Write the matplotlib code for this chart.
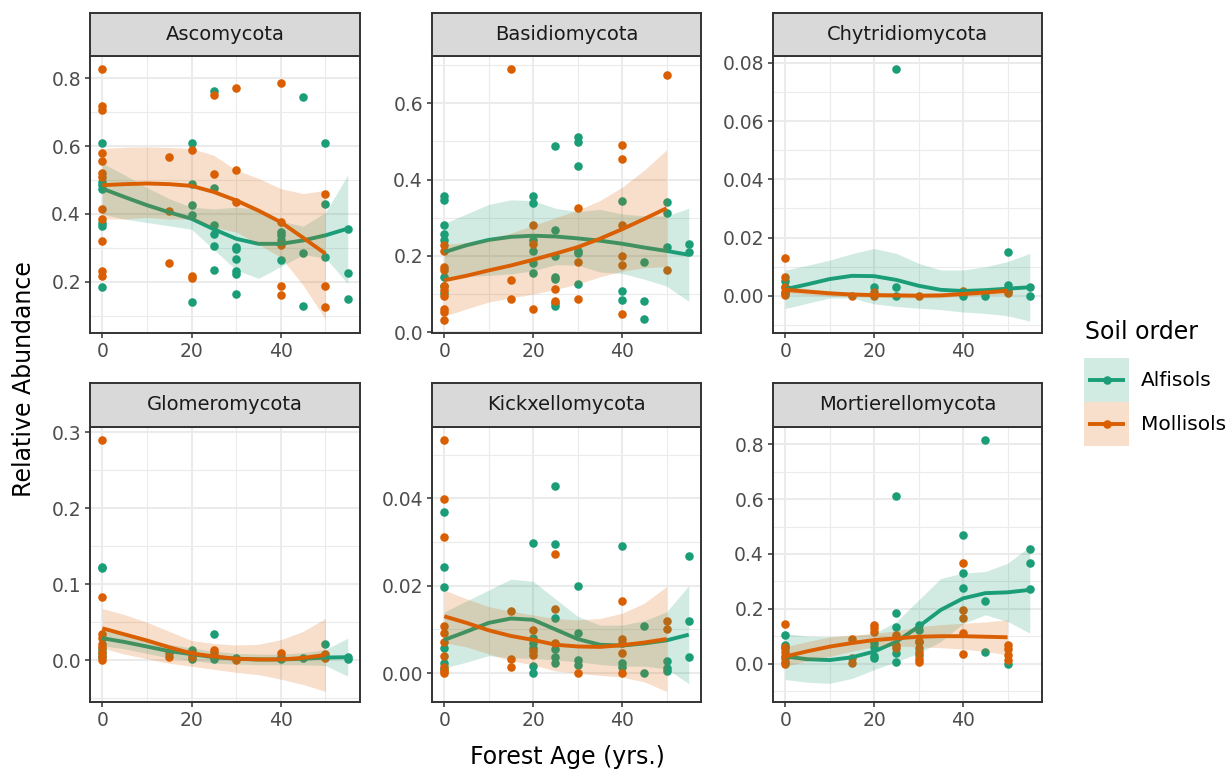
import numpy as np
import matplotlib
matplotlib.use('Agg')
import matplotlib.pyplot as plt
from matplotlib.patches import Rectangle

W, H = 1232, 773

GREEN = '#1B9E77'
ORANGE = '#D95F02'

FIT_X_ALF = [0, 5, 10, 15, 20, 25, 30, 35, 40, 45, 50, 55]
FIT_X_MOL = [0, 5, 10, 15, 20, 25, 30, 35, 40, 45, 50]

# ---------------- Ascomycota ----------------
asco_alf = [(0, 0.61), (0, 0.495), (0, 0.485), (0, 0.475), (0, 0.373), (0, 0.366), (0, 0.184),
            (20, 0.608), (20, 0.488), (20, 0.428), (20, 0.397), (20, 0.14),
            (25, 0.764), (25, 0.478), (25, 0.369), (25, 0.342), (25, 0.307), (25, 0.236),
            (30, 0.304), (30, 0.298), (30, 0.268), (30, 0.231), (30, 0.224), (30, 0.163),
            (40, 0.347), (40, 0.337), (40, 0.324), (40, 0.263),
            (45, 0.746), (45, 0.286), (45, 0.13),
            (50, 0.61), (50, 0.43), (50, 0.273),
            (55, 0.357), (55, 0.227), (55, 0.15)]
asco_mol = [(0, 0.827), (0, 0.72), (0, 0.708), (0, 0.58), (0, 0.557), (0, 0.52), (0, 0.51),
            (0, 0.416), (0, 0.386), (0, 0.32), (0, 0.233), (0, 0.216),
            (15, 0.567), (15, 0.409), (15, 0.256),
            (20, 0.588), (20, 0.216), (20, 0.21),
            (25, 0.751), (25, 0.519),
            (30, 0.772), (30, 0.531), (30, 0.436),
            (40, 0.787), (40, 0.376), (40, 0.31), (40, 0.187), (40, 0.16),
            (50, 0.458), (50, 0.187), (50, 0.125)]
asco_alf_fit = [0.475, 0.45, 0.426, 0.405, 0.386, 0.355, 0.327, 0.312, 0.312, 0.322, 0.337, 0.357]
asco_alf_lo = [0.40, 0.385, 0.375, 0.365, 0.355, 0.295, 0.235, 0.21, 0.245, 0.28, 0.27, 0.195]
asco_alf_hi = [0.55, 0.515, 0.478, 0.445, 0.42, 0.415, 0.42, 0.414, 0.379, 0.364, 0.404, 0.515]
asco_mol_fit = [0.485, 0.488, 0.49, 0.488, 0.483, 0.465, 0.44, 0.41, 0.376, 0.33, 0.283]
asco_mol_lo = [0.386, 0.385, 0.39, 0.385, 0.386, 0.36, 0.347, 0.31, 0.273, 0.19, 0.09]
asco_mol_hi = [0.593, 0.597, 0.598, 0.596, 0.593, 0.573, 0.53, 0.505, 0.475, 0.46, 0.47]

# ---------------- Basidiomycota ----------------
basi_alf = [(0, 0.357), (0, 0.347), (0, 0.281), (0, 0.258), (0, 0.242), (0, 0.146), (0, 0.122), (0, 0.102),
            (20, 0.358), (20, 0.338), (20, 0.242), (20, 0.212), (20, 0.181), (20, 0.156),
            (25, 0.487), (25, 0.268), (25, 0.2), (25, 0.144), (25, 0.139), (25, 0.076), (25, 0.069),
            (30, 0.513), (30, 0.498), (30, 0.437), (30, 0.214), (30, 0.207), (30, 0.127),
            (40, 0.345), (40, 0.109), (40, 0.085),
            (45, 0.185), (45, 0.082), (45, 0.035),
            (50, 0.342), (50, 0.312), (50, 0.223),
            (55, 0.232), (55, 0.209)]
basi_mol = [(0, 0.229), (0, 0.214), (0, 0.172), (0, 0.162), (0, 0.12), (0, 0.111), (0, 0.094),
            (0, 0.06), (0, 0.052), (0, 0.033),
            (15, 0.689), (15, 0.136), (15, 0.088),
            (20, 0.281), (20, 0.232), (20, 0.062),
            (25, 0.113), (25, 0.082),
            (30, 0.325), (30, 0.185), (30, 0.088),
            (40, 0.49), (40, 0.454), (40, 0.281), (40, 0.2), (40, 0.177), (40, 0.048),
            (50, 0.674), (50, 0.162)]
basi_alf_fit = [0.21, 0.228, 0.242, 0.25, 0.253, 0.251, 0.246, 0.24, 0.232, 0.222, 0.213, 0.203]
basi_alf_lo = [0.135, 0.146, 0.149, 0.153, 0.161, 0.177, 0.176, 0.158, 0.154, 0.139, 0.121, 0.081]
basi_alf_hi = [0.285, 0.31, 0.335, 0.347, 0.345, 0.325, 0.316, 0.322, 0.31, 0.305, 0.305, 0.325]
basi_mol_fit = [0.136, 0.148, 0.162, 0.175, 0.19, 0.206, 0.223, 0.245, 0.27, 0.297, 0.325]
basi_mol_lo = [0.042, 0.061, 0.079, 0.09, 0.1, 0.112, 0.126, 0.145, 0.16, 0.169, 0.172]
basi_mol_hi = [0.23, 0.235, 0.245, 0.26, 0.28, 0.3, 0.32, 0.345, 0.38, 0.425, 0.478]

# ---------------- Chytridiomycota ----------------
chyt_alf = [(0, 0.005), (0, 0.003), (0, 0.001),
            (20, 0.0032), (20, 0.0005),
            (25, 0.0777), (25, 0.003), (25, 0.0),
            (40, 0.0), (45, 0.0),
            (50, 0.0151), (50, 0.0038),
            (55, 0.003), (55, 0.0)]
chyt_mol = [(0, 0.0131), (0, 0.0064), (0, 0.0032), (0, 0.0015), (0, 0.0003),
            (15, 0.0), (20, 0.0015), (20, 0.0), (30, 0.0),
            (40, 0.0018), (50, 0.0018), (50, 0.001)]
chyt_alf_fit = [0.0023, 0.004, 0.0058, 0.0069, 0.0068, 0.0055, 0.0035, 0.0021, 0.0017, 0.002, 0.0025, 0.003]
chyt_alf_lo = [-0.0043, -0.0025, -0.0007, -0.0007, -0.0027, -0.0036, -0.0042, -0.0047, -0.0055, -0.006, -0.0068, -0.0086]
chyt_alf_hi = [0.0089, 0.0105, 0.0123, 0.0145, 0.0163, 0.0146, 0.0112, 0.0089, 0.0089, 0.01, 0.0118, 0.0146]
chyt_mol_fit = [0.0021, 0.0015, 0.0009, 0.0005, 0.0003, 0.0002, 0.0001, 0.0002, 0.0007, 0.0012, 0.0018]
chyt_mol_lo = [0.0009, 0.0005, 0.0, -0.0003, -0.0005, -0.0006, -0.0007, -0.0006, -0.0001, 0.0003, 0.0006]
chyt_mol_hi = [0.0033, 0.0025, 0.0018, 0.0013, 0.0011, 0.001, 0.0009, 0.001, 0.0015, 0.0021, 0.003]

# ---------------- Glomeromycota ----------------
glom_alf = [(0, 0.123), (0, 0.121), (0, 0.015), (0, 0.009), (0, 0.004),
            (20, 0.013), (20, 0.002),
            (25, 0.035), (25, 0.004), (25, 0.001),
            (30, 0.0035), (40, 0.004), (40, 0.001), (45, 0.0035),
            (50, 0.021), (55, 0.004), (55, 0.001)]
glom_mol = [(0, 0.29), (0, 0.083), (0, 0.034), (0, 0.029), (0, 0.022), (0, 0.018), (0, 0.011),
            (0, 0.005), (0, 0.0),
            (15, 0.009), (15, 0.004), (20, 0.008), (20, 0.004),
            (25, 0.014), (25, 0.009), (30, 0.0), (40, 0.009),
            (50, 0.008), (50, 0.0035)]
glom_alf_fit = [0.029, 0.024, 0.018, 0.012, 0.008, 0.004, 0.002, 0.001, 0.001, 0.002, 0.0035, 0.004]
glom_alf_lo = [0.019, 0.015, 0.009, 0.003, 0.0, -0.004, -0.005, -0.006, -0.006, -0.006, -0.007, -0.021]
glom_alf_hi = [0.039, 0.033, 0.027, 0.021, 0.016, 0.012, 0.009, 0.008, 0.008, 0.01, 0.014, 0.029]
glom_mol_fit = [0.042, 0.034, 0.026, 0.017, 0.009, 0.005, 0.002, 0.001, 0.001, 0.003, 0.007]
glom_mol_lo = [0.016, 0.008, 0.002, -0.004, -0.008, -0.012, -0.016, -0.019, -0.025, -0.032, -0.041]
glom_mol_hi = [0.068, 0.06, 0.05, 0.038, 0.026, 0.022, 0.02, 0.021, 0.027, 0.038, 0.055]

# ---------------- Kickxellomycota ----------------
kick_alf = [(0, 0.0368), (0, 0.0242), (0, 0.0197), (0, 0.0057), (0, 0.0024), (0, 0.0009),
            (20, 0.0297), (20, 0.008), (20, 0.0069), (20, 0.0057), (20, 0.0017), (20, 0.0),
            (25, 0.0428), (25, 0.0295), (25, 0.0126), (25, 0.0055), (25, 0.0037), (25, 0.0023),
            (30, 0.02), (30, 0.0091), (30, 0.003), (30, 0.0019),
            (40, 0.029), (40, 0.0023), (40, 0.0015),
            (45, 0.0107), (45, 0.0),
            (50, 0.0027), (50, 0.0011), (50, 0.0004),
            (55, 0.0268), (55, 0.012), (55, 0.0037)]
kick_mol = [(0, 0.0533), (0, 0.0398), (0, 0.0311), (0, 0.0107), (0, 0.0091), (0, 0.0072),
            (0, 0.004), (0, 0.0014), (0, 0.0004), (0, 0.0),
            (15, 0.0141), (15, 0.0032), (15, 0.0015),
            (20, 0.0098), (20, 0.005), (20, 0.0042),
            (25, 0.0272), (25, 0.0147), (25, 0.0069),
            (30, 0.0),
            (40, 0.0166), (40, 0.0078), (40, 0.0069), (40, 0.0046), (40, 0.0),
            (50, 0.012), (50, 0.01)]
kick_alf_fit = [0.0076, 0.0095, 0.0115, 0.0125, 0.0122, 0.01, 0.0078, 0.0065, 0.0063, 0.0068, 0.0075, 0.0088]
kick_alf_lo = [0.0012, 0.0025, 0.004, 0.0035, 0.0034, 0.003, 0.0026, 0.002, 0.0016, 0.0016, 0.001, -0.0024]
kick_alf_hi = [0.014, 0.0165, 0.019, 0.0215, 0.021, 0.017, 0.013, 0.011, 0.011, 0.012, 0.014, 0.02]
kick_mol_fit = [0.013, 0.0115, 0.0098, 0.0085, 0.0076, 0.0065, 0.0061, 0.006, 0.0064, 0.007, 0.0078]
kick_mol_lo = [0.007, 0.006, 0.0044, 0.0028, 0.0019, 0.0005, 0.0, -0.0005, -0.0009, -0.002, -0.0042]
kick_mol_hi = [0.019, 0.017, 0.0152, 0.0142, 0.0133, 0.0125, 0.0122, 0.0125, 0.0137, 0.016, 0.0198]

# ---------------- Mortierellomycota ----------------
mort_alf = [(0, 0.105), (0, 0.068), (0, 0.056), (0, 0.019),
            (20, 0.074), (20, 0.062), (20, 0.028), (20, 0.019),
            (25, 0.612), (25, 0.184), (25, 0.135), (25, 0.04), (25, 0.007),
            (30, 0.141), (30, 0.123), (30, 0.08), (30, 0.032),
            (40, 0.469), (40, 0.332), (40, 0.277),
            (45, 0.816), (45, 0.229), (45, 0.044),
            (50, 0.0),
            (55, 0.418), (55, 0.366), (55, 0.272)]
mort_mol = [(0, 0.143), (0, 0.062), (0, 0.044), (0, 0.026), (0, 0.007), (0, 0.0),
            (15, 0.09), (15, 0.019), (15, 0.001),
            (20, 0.141), (20, 0.129), (20, 0.117),
            (25, 0.105), (25, 0.068), (25, 0.056),
            (30, 0.084), (30, 0.056), (30, 0.044), (30, 0.016), (30, 0.007),
            (40, 0.368), (40, 0.196), (40, 0.165), (40, 0.111), (40, 0.035),
            (50, 0.068), (50, 0.052), (50, 0.032), (50, 0.013)]
mort_alf_fit = [0.026, 0.016, 0.013, 0.023, 0.044, 0.08, 0.135, 0.196, 0.238, 0.257, 0.26, 0.269]
mort_alf_lo = [-0.058, -0.068, -0.072, -0.054, -0.022, 0.007, 0.038, 0.081, 0.146, 0.178, 0.154, 0.111]
mort_alf_hi = [0.11, 0.1, 0.098, 0.1, 0.11, 0.153, 0.232, 0.311, 0.33, 0.336, 0.366, 0.427]
mort_mol_fit = [0.026, 0.045, 0.062, 0.075, 0.086, 0.092, 0.098, 0.1, 0.1, 0.098, 0.096]
mort_mol_lo = [-0.01, 0.01, 0.026, 0.045, 0.062, 0.064, 0.061, 0.058, 0.053, 0.044, 0.032]
mort_mol_hi = [0.062, 0.08, 0.098, 0.105, 0.11, 0.12, 0.135, 0.142, 0.147, 0.152, 0.16]

PHYLA = ['Ascomycota', 'Basidiomycota', 'Chytridiomycota',
         'Glomeromycota', 'Kickxellomycota', 'Mortierellomycota']
Y_TICKS = [[0.2, 0.4, 0.6, 0.8], [0.0, 0.2, 0.4, 0.6], [0.0, 0.02, 0.04, 0.06, 0.08],
           [0.0, 0.1, 0.2, 0.3], [0.0, 0.02, 0.04], [0.0, 0.2, 0.4, 0.6, 0.8]]
Y_LABELS = [['0.2', '0.4', '0.6', '0.8'], ['0.0', '0.2', '0.4', '0.6'],
            ['0.00', '0.02', '0.04', '0.06', '0.08'], ['0.0', '0.1', '0.2', '0.3'],
            ['0.00', '0.02', '0.04'], ['0.0', '0.2', '0.4', '0.6', '0.8']]
Y_LIMS = [(0.049, 0.866), (-0.002, 0.724), (-0.0127, 0.0823),
          (-0.055, 0.307), (-0.0066, 0.0563), (-0.14, 0.863)]

panels = [
    (asco_alf, asco_mol, (asco_alf_fit, asco_alf_lo, asco_alf_hi), (asco_mol_fit, asco_mol_lo, asco_mol_hi)),
    (basi_alf, basi_mol, (basi_alf_fit, basi_alf_lo, basi_alf_hi), (basi_mol_fit, basi_mol_lo, basi_mol_hi)),
    (chyt_alf, chyt_mol, (chyt_alf_fit, chyt_alf_lo, chyt_alf_hi), (chyt_mol_fit, chyt_mol_lo, chyt_mol_hi)),
    (glom_alf, glom_mol, (glom_alf_fit, glom_alf_lo, glom_alf_hi), (glom_mol_fit, glom_mol_lo, glom_mol_hi)),
    (kick_alf, kick_mol, (kick_alf_fit, kick_alf_lo, kick_alf_hi), (kick_mol_fit, kick_mol_lo, kick_mol_hi)),
    (mort_alf, mort_mol, (mort_alf_fit, mort_alf_lo, mort_alf_hi), (mort_mol_fit, mort_mol_lo, mort_mol_hi)),
]

COLS = [(90, 360), (432, 701), (773, 1042)]
ROWS = [(13, 56, 333), (383, 427, 702)]   # strip top, panel top, panel bottom
PT_SIZE = 38
LINE_W = 2.8


def px_rect(left, top, right, bottom):
    return [left / W, 1 - bottom / H, (right - left) / W, (bottom - top) / H]


plt.rcParams['font.family'] = 'DejaVu Sans'
fig = plt.figure(figsize=(W / 100, H / 100), dpi=100)

for i, name in enumerate(PHYLA):
    r, c = divmod(i, 3)
    left, right = COLS[c]
    s_top, p_top, p_bot = ROWS[r]
    ax = fig.add_axes(px_rect(left, p_top, right, p_bot))
    alf, mol, fa, fm = panels[i]

    ax.scatter([p[0] for p in alf], [p[1] for p in alf], s=PT_SIZE, color=GREEN, lw=0, zorder=3)
    ax.scatter([p[0] for p in mol], [p[1] for p in mol], s=PT_SIZE, color=ORANGE, lw=0, zorder=3)

    for fx, (fit, lo, hi), col in [(FIT_X_ALF, fa, GREEN), (FIT_X_MOL, fm, ORANGE)]:
        ax.fill_between(fx, lo, hi, color=col, alpha=0.2, lw=0, zorder=4)
        ax.plot(fx, fit, color=col, lw=LINE_W, zorder=4, solid_capstyle='butt')

    ax.set_xlim(-2.75, 57.75)
    ax.set_xticks([0, 20, 40])
    ax.set_xticks([10, 30, 50], minor=True)
    yt = Y_TICKS[i]
    step = yt[1] - yt[0]
    ax.set_yticks(yt)
    ax.set_yticklabels(Y_LABELS[i])
    ax.set_yticks([v + step / 2 for v in [yt[0] - step] + yt], minor=True)
    ax.set_ylim(*Y_LIMS[i])
    ax.grid(which='major', color='#EBEBEB', lw=1.5, zorder=0)
    ax.grid(which='minor', color='#EBEBEB', lw=0.8, zorder=0)
    ax.set_axisbelow(True)
    ax.tick_params(which='major', length=3.5, width=1.1, color='#333333',
                   labelsize=13.5, labelcolor='#4D4D4D', pad=3)
    ax.tick_params(which='minor', length=0)
    for sp in ax.spines.values():
        sp.set_color('#333333')
        sp.set_linewidth(1.4)

    sax = fig.add_axes(px_rect(left, s_top, right, p_top))
    sax.set_facecolor('#D9D9D9')
    sax.set_xticks([])
    sax.set_yticks([])
    for sp in sax.spines.values():
        sp.set_color('#333333')
        sp.set_linewidth(1.4)
    sax.text(0.5, 0.5, name, ha='center', va='center', fontsize=14, color='#1A1A1A',
             transform=sax.transAxes)

fig.text(567 / W, 1 - 757 / H, 'Forest Age (yrs.)', ha='center', va='center', fontsize=17)
fig.text(24 / W, 1 - 379 / H, 'Relative Abundance', ha='center', va='center',
         rotation=90, fontsize=17)

# legend drawn in pixel space
lax = fig.add_axes([0, 0, 1, 1], zorder=10)
lax.set_xlim(0, W)
lax.set_ylim(H, 0)
lax.axis('off')
lax.text(1085, 332, 'Soil order', ha='left', va='center', fontsize=17)
for k, (lab, col) in enumerate([('Alfisols', GREEN), ('Mollisols', ORANGE)]):
    y0 = 358 + k * 44
    lax.add_patch(Rectangle((1084, y0), 45, 44, facecolor=col, alpha=0.2, lw=0))
    lax.plot([1088, 1125], [y0 + 22, y0 + 22], color=col, lw=LINE_W, solid_capstyle='butt')
    lax.scatter([1106.5], [y0 + 22], s=PT_SIZE, color=col, lw=0)
    lax.text(1141, y0 + 22, lab, ha='left', va='center', fontsize=14.5)

fig.savefig('out.png', dpi=100)
